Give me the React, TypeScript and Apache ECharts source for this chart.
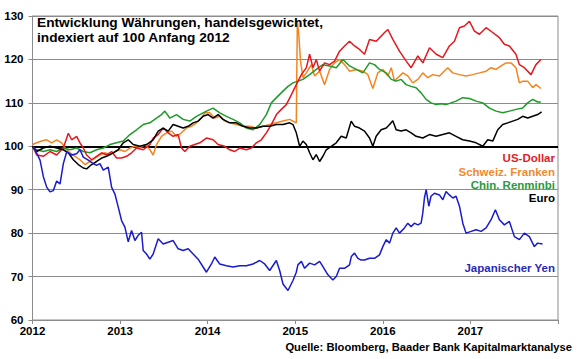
import React, { useEffect, useRef } from "react";
import * as echarts from "echarts";

// [year (decimal), index value]
const usDollar: [number, number][] = [[2012.0,100],[2012.048,98],[2012.124,97.7],[2012.2,98.8],[2012.276,98],[2012.352,99.6],[2012.409,103],[2012.447,101.5],[2012.504,102.3],[2012.542,100.8],[2012.58,99.6],[2012.618,98],[2012.675,96.9],[2012.732,97.7],[2012.789,98.5],[2012.846,98],[2012.903,98.8],[2012.96,97.3],[2013.017,97.3],[2013.074,97.7],[2013.131,98.5],[2013.188,99.6],[2013.264,99.2],[2013.34,100.4],[2013.378,101.9],[2013.435,102.7],[2013.492,104.2],[2013.549,103.1],[2013.606,102.3],[2013.663,102.7],[2013.701,99.6],[2013.739,98.8],[2013.796,100],[2013.853,100.4],[2013.91,100.8],[2013.986,101.9],[2014.062,101.5],[2014.119,100.4],[2014.195,100],[2014.252,99.2],[2014.309,98.8],[2014.366,99.6],[2014.442,99.2],[2014.499,99.6],[2014.556,100.8],[2014.613,101.5],[2014.67,103.1],[2014.727,105],[2014.785,107.3],[2014.841,108.5],[2014.898,109.6],[2014.956,111.9],[2015.012,114.2],[2015.07,116.5],[2015.127,118.1],[2015.164,121.2],[2015.202,118.1],[2015.24,120],[2015.278,117.3],[2015.335,119.2],[2015.392,118.8],[2015.449,119.6],[2015.506,121.9],[2015.563,123.1],[2015.62,124.2],[2015.677,123.1],[2015.734,122.3],[2015.791,121.2],[2015.848,124.6],[2015.925,124.2],[2016.02,126.2],[2016.058,126.9],[2016.114,124.6],[2016.19,121.9],[2016.267,119.6],[2016.323,118.1],[2016.4,120.8],[2016.457,119.2],[2016.533,122.7],[2016.61,121.2],[2016.684,120.4],[2016.76,123.1],[2016.818,124.2],[2016.875,127.3],[2016.932,127.7],[2016.989,128.8],[2017.046,126.5],[2017.103,125.8],[2017.179,127.3],[2017.254,126.2],[2017.331,125],[2017.388,123.5],[2017.445,123.1],[2017.52,121.2],[2017.559,118.8],[2017.616,118.1],[2017.692,116.5],[2017.748,118.8],[2017.805,120]];

const schweizFranken: [number, number][] = [[2012,100.4],[2012.048,100.8],[2012.105,101.2],[2012.162,101.5],[2012.219,100.8],[2012.276,101.5],[2012.333,100.8],[2012.371,99.6],[2012.428,98.5],[2012.485,97.7],[2012.542,96.9],[2012.599,95.8],[2012.656,96.5],[2012.713,97.3],[2012.77,98],[2012.827,98.5],[2012.884,98],[2012.941,98.8],[2012.998,99.2],[2013.055,98.8],[2013.112,99.6],[2013.169,100],[2013.226,99.6],[2013.283,100.4],[2013.34,99.2],[2013.378,98],[2013.416,100.4],[2013.473,102.3],[2013.53,103.1],[2013.587,103.5],[2013.644,102.3],[2013.701,103.1],[2013.758,104.2],[2013.815,104.6],[2013.872,105.4],[2013.929,106.5],[2013.967,107.7],[2014.024,107.7],[2014.081,106.5],[2014.138,106.9],[2014.195,105.8],[2014.252,105.4],[2014.328,105],[2014.404,104.6],[2014.48,104.6],[2014.556,104.2],[2014.632,104.6],[2014.708,105],[2014.785,105.4],[2014.86,105.8],[2014.936,106.2],[2015.012,105.4],[2015.024,128.8],[2015.04,125.8],[2015.06,119.6],[2015.088,115.8],[2015.127,116.9],[2015.183,118.8],[2015.221,116.2],[2015.278,117.3],[2015.335,114.2],[2015.392,117.7],[2015.449,119.2],[2015.506,120],[2015.563,118.8],[2015.62,117.3],[2015.696,117.7],[2015.772,117.3],[2015.829,116.5],[2015.886,113.3],[2015.943,116.9],[2016.0,117.7],[2016.058,116.2],[2016.096,118.1],[2016.133,115],[2016.171,115.8],[2016.228,116.9],[2016.285,116.2],[2016.342,114.6],[2016.4,115.4],[2016.456,116.9],[2016.513,115.8],[2016.57,116.5],[2016.646,116.2],[2016.741,118.1],[2016.798,116.9],[2016.875,116.5],[2016.95,116.2],[2017.026,116.5],[2017.103,116.9],[2017.179,117.3],[2017.236,118.1],[2017.293,117.7],[2017.35,118.5],[2017.407,119.2],[2017.464,119.2],[2017.52,118.1],[2017.559,114.6],[2017.597,115],[2017.654,115],[2017.71,113.5],[2017.748,114.2],[2017.805,113.3]];

const chinRenminbi: [number, number][] = [[2012,99.6],[2012.048,99.2],[2012.124,98.8],[2012.2,99.2],[2012.276,98.8],[2012.352,99.6],[2012.428,99.2],[2012.504,99.6],[2012.58,98.8],[2012.656,98.5],[2012.732,99.2],[2012.808,99.6],[2012.884,100.4],[2012.96,100.8],[2013.036,101.2],[2013.112,102.7],[2013.188,103.8],[2013.264,105],[2013.34,105.4],[2013.416,106.5],[2013.473,107.3],[2013.511,108.1],[2013.568,106.5],[2013.644,107.3],[2013.72,106.2],[2013.796,105.8],[2013.872,106.9],[2013.948,107.7],[2013.986,108.1],[2014.062,108.8],[2014.138,107.7],[2014.214,106.9],[2014.29,106.2],[2014.366,105.4],[2014.442,104.2],[2014.518,103.8],[2014.594,105],[2014.67,107.3],[2014.727,110],[2014.785,111.2],[2014.86,112.7],[2014.917,113.8],[2014.974,114.6],[2015.031,115],[2015.088,115.4],[2015.164,116.5],[2015.24,117.7],[2015.316,118.8],[2015.392,118.5],[2015.468,118.1],[2015.544,120],[2015.62,118.5],[2015.696,117.7],[2015.772,116.9],[2015.848,119.2],[2015.905,118.8],[2015.962,117.7],[2016.039,116.9],[2016.096,115.4],[2016.152,115],[2016.209,115.4],[2016.266,114.2],[2016.323,113.8],[2016.38,113.5],[2016.437,112.3],[2016.494,110.8],[2016.551,110],[2016.608,109.6],[2016.665,109.8],[2016.722,109.6],[2016.779,110],[2016.836,110.4],[2016.912,111.2],[2016.989,111],[2017.065,110.4],[2017.141,110],[2017.217,108.8],[2017.293,108.1],[2017.369,107.7],[2017.445,108.1],[2017.521,108.5],[2017.597,108.8],[2017.654,110],[2017.711,110.8],[2017.768,110.2],[2017.805,110.2]];

const euro: [number, number][] = [[2012,100],[2012.048,98.8],[2012.124,99.6],[2012.2,100],[2012.276,99.6],[2012.352,99.2],[2012.409,98.5],[2012.466,96.9],[2012.523,95.8],[2012.58,95],[2012.618,94.8],[2012.675,95.8],[2012.732,96.5],[2012.789,97.3],[2012.846,97.7],[2012.922,98.5],[2012.979,99.2],[2013.036,100.8],[2013.093,101.5],[2013.15,100.4],[2013.226,100],[2013.302,100.4],[2013.378,101.5],[2013.435,103.5],[2013.492,104.2],[2013.549,103.5],[2013.606,105],[2013.663,104.6],[2013.72,104.2],[2013.777,104.6],[2013.834,105.4],[2013.891,105.8],[2013.948,106.9],[2014.005,107.3],[2014.062,106.5],[2014.119,107.3],[2014.176,106.2],[2014.252,105.4],[2014.328,105.4],[2014.404,104.6],[2014.48,104.2],[2014.556,104.2],[2014.632,104.6],[2014.708,104.6],[2014.785,105],[2014.86,105],[2014.936,105.4],[2014.974,105],[2015.012,103.1],[2015.05,100],[2015.088,101.2],[2015.126,100.4],[2015.164,98.5],[2015.202,96.9],[2015.24,98.1],[2015.278,96.5],[2015.316,97.7],[2015.354,99.2],[2015.411,100],[2015.468,100.8],[2015.525,102.3],[2015.582,101.9],[2015.639,105.8],[2015.677,104.6],[2015.734,104.2],[2015.791,103.5],[2015.848,101.9],[2015.886,100],[2015.924,102.3],[2015.981,103.8],[2016.039,104.2],[2016.077,105],[2016.114,105.9],[2016.152,103.8],[2016.209,103.5],[2016.266,103.8],[2016.323,103.1],[2016.38,102.3],[2016.456,101.9],[2016.532,102.7],[2016.608,102.3],[2016.684,102.7],[2016.76,103.1],[2016.836,102.3],[2016.912,101.5],[2016.989,101.2],[2017.065,100.8],[2017.141,100],[2017.198,101.5],[2017.255,101.2],[2017.312,103.8],[2017.369,105],[2017.426,105.4],[2017.483,105.8],[2017.54,106.2],[2017.597,106.9],[2017.654,106.5],[2017.711,106.9],[2017.768,107.3],[2017.813,107.9]];

const japanischerYen: [number, number][] = [[2012.01,100],[2012.086,96.8],[2012.124,93],[2012.162,90.6],[2012.2,89.5],[2012.238,89.8],[2012.276,92],[2012.314,91.3],[2012.352,96],[2012.39,98.7],[2012.447,98],[2012.504,98.3],[2012.542,99.2],[2012.58,97.5],[2012.637,96.8],[2012.694,96],[2012.732,95.6],[2012.77,96],[2012.808,94.5],[2012.865,95.2],[2012.903,90.6],[2012.941,89],[2012.979,86],[2013.017,82.9],[2013.055,81.4],[2013.093,78],[2013.131,80.6],[2013.169,78.3],[2013.207,79.5],[2013.245,80.2],[2013.264,76],[2013.302,75.2],[2013.34,74],[2013.378,75.2],[2013.435,78.7],[2013.492,77.5],[2013.549,77.9],[2013.606,78.3],[2013.663,76.4],[2013.72,76],[2013.777,76.4],[2013.834,75.2],[2013.891,74],[2013.948,72.2],[2013.986,71],[2014.043,72.9],[2014.081,74.5],[2014.138,72.9],[2014.214,72.5],[2014.29,72.2],[2014.366,72.5],[2014.442,72.5],[2014.518,72.9],[2014.594,73.7],[2014.651,72.9],[2014.708,71.4],[2014.784,73.7],[2014.822,71.4],[2014.86,68.3],[2014.917,66.8],[2014.974,69.1],[2015.012,71],[2015.03,72.7],[2015.07,73.5],[2015.107,71.9],[2015.164,73.1],[2015.221,72.7],[2015.278,73.5],[2015.316,72.3],[2015.373,70.4],[2015.43,69.2],[2015.468,70],[2015.506,71.9],[2015.563,71.9],[2015.62,72.7],[2015.64,74.6],[2015.677,75.4],[2015.715,74.2],[2015.753,73.8],[2015.791,73.8],[2015.848,74.2],[2015.905,74.2],[2015.962,75],[2016.0,76.9],[2016.039,78.5],[2016.077,77.7],[2016.114,80],[2016.153,81.2],[2016.19,80],[2016.247,81.2],[2016.285,82.3],[2016.323,81.5],[2016.36,82.3],[2016.4,81.9],[2016.437,82.3],[2016.456,84.6],[2016.475,88.1],[2016.495,90],[2016.525,86.2],[2016.55,88.5],[2016.589,89.2],[2016.646,88.8],[2016.685,87.7],[2016.722,89.6],[2016.76,88.8],[2016.799,88.1],[2016.836,88.5],[2016.875,86.2],[2016.913,82.3],[2016.95,80],[2017.008,80.4],[2017.065,80.8],[2017.122,80.4],[2017.179,81.2],[2017.236,83.1],[2017.285,85.4],[2017.331,83.1],[2017.388,81.9],[2017.445,82.7],[2017.502,79.2],[2017.559,78.5],[2017.616,80],[2017.673,79.2],[2017.73,76.9],[2017.767,77.7],[2017.824,77.5]];

const seriesNames = ["US-Dollar", "Schweiz. Franken", "Chin. Renminbi", "Euro", "Japanischer Yen"];
const titleLines = ["Entwicklung Währungen, handelsgewichtet,", "indexiert auf 100 Anfang 2012"];
const sourceText = "Quelle: Bloomberg, Baader Bank Kapitalmarktanalyse";
const xYears = [2012, 2013, 2014, 2015, 2016, 2017];

const FONT = '"Liberation Sans", Arial, sans-serif';

export default function App() {
  const ref = useRef<HTMLDivElement>(null);
  useEffect(() => {
    if (!ref.current) return;
    const chart = echarts.init(ref.current, undefined, { renderer: "svg" });
    const colors = ["#e8161d", "#f5841f", "#1f9a2a", "#000000", "#1a1acf"];
    const labelColors = ["#e01e25", "#f08a30", "#2a9a3a", "#000000", "#2a2ab8"];
    const datasets = [usDollar, schweizFranken, chinRenminbi, euro, japanischerYen];
    const drawOrder = [1, 2, 0, 3, 4];
    const legendY = [158, 172, 185, 198, 268];

    chart.setOption({
      animation: false,
      backgroundColor: "#ffffff",
      grid: { left: 32.5, right: 22, top: 16, bottom: 39, show: true, borderColor: "#8c8c8c", borderWidth: 1, containLabel: false },
      xAxis: {
        type: "value",
        min: 2012,
        max: 2018,
        interval: 1,
        axisLine: { show: true, lineStyle: { color: "#8c8c8c", width: 1 } },
        axisTick: { show: true, inside: false, length: 4, lineStyle: { color: "#8c8c8c" } },
        splitLine: { show: false },
        axisLabel: {
          margin: 5,
          color: "#000",
          fontFamily: FONT,
          fontWeight: "bold",
          fontSize: 11.5,
          formatter: (v: number) => (xYears.indexOf(Math.round(v)) >= 0 ? String(Math.round(v)) : ""),
        },
      },
      yAxis: {
        type: "value",
        min: 60,
        max: 130,
        interval: 10,
        axisLine: { show: true, lineStyle: { color: "#8c8c8c", width: 1 } },
        axisTick: { show: true, inside: false, length: 4, lineStyle: { color: "#8c8c8c" } },
        splitLine: { show: true, lineStyle: { color: "#8c8c8c", width: 1 } },
        axisLabel: { margin: 9, color: "#000", fontFamily: FONT, fontWeight: "bold", fontSize: 11.5 },
      },
      series: drawOrder.map((i) => ({
        name: seriesNames[i],
        type: "line",
        data: datasets[i],
        showSymbol: false,
        symbol: "none",
        lineStyle: { color: colors[i], width: 1.5 },
        z: 3,
        markLine:
          i === 3
            ? {
                silent: true,
                symbol: "none",
                label: { show: false },
                lineStyle: { color: "#000", width: 2, type: "solid" },
                data: [{ yAxis: 100 }],
                z: 2,
              }
            : undefined,
      })),
      graphic: [
        {
          type: "text",
          left: 37,
          top: 15,
          z: 10,
          style: {
            text: titleLines.join("\n"),
            font: `bold 13.7px ${FONT}`,
            fill: "#000",
            lineHeight: 15,
          },
        },
        ...seriesNames.map((name, i) => ({
          type: "text",
          x: 555,
          y: legendY[i],
          z: 10,
          style: {
            text: name,
            font: `bold 11.5px ${FONT}`,
            fill: labelColors[i],
            textAlign: "right",
            textVerticalAlign: "middle",
          },
        })),
        {
          type: "text",
          x: 572,
          y: 347,
          z: 10,
          style: {
            text: sourceText,
            font: `bold 11.2px ${FONT}`,
            fill: "#000",
            textAlign: "right",
            textVerticalAlign: "middle",
          },
        },
      ],
    });
    return () => chart.dispose();
  }, []);
  return <div ref={ref} style={{ position: "absolute", left: 0, top: 0, width: 580, height: 359 }} />;
}
